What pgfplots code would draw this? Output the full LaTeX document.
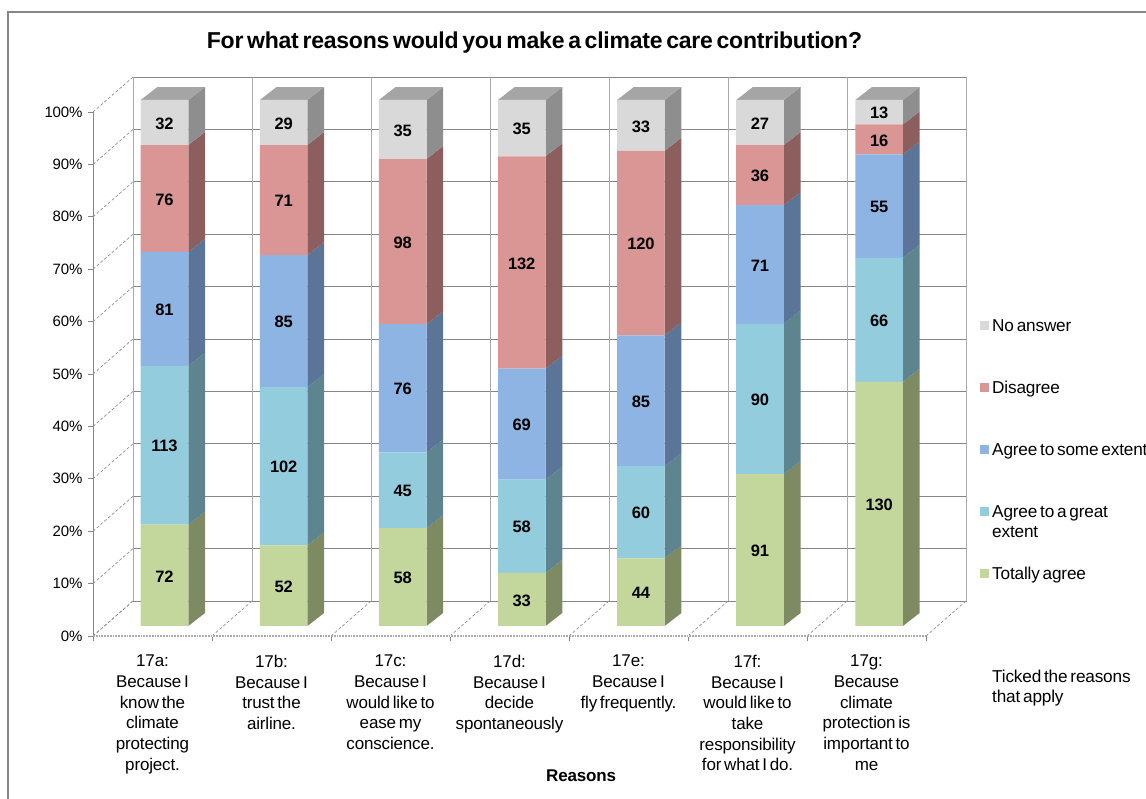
\documentclass[border=0pt]{standalone}
\usepackage{fontspec}
\setmainfont[WordSpace=0.6,LetterSpace=-1.0]{Liberation Sans}
\usepackage{pgfplots}
\usepackage{pgfplotstable}
\pgfplotsset{compat=1.18}

% front colours and darker side colours
\definecolor{cGreen}{HTML}{C3D69B}\definecolor{sGreen}{HTML}{7D8A62}
\definecolor{cTeal}{HTML}{93CDDD}\definecolor{sTeal}{HTML}{5E8490}
\definecolor{cBlue}{HTML}{8EB4E3}\definecolor{sBlue}{HTML}{5A7597}
\definecolor{cRed}{HTML}{D99694}\definecolor{sRed}{HTML}{8C5F5E}
\definecolor{cGrey}{HTML}{D9D9D9}\definecolor{sGrey}{HTML}{8E8E8E}
\definecolor{tGrey}{HTML}{A5A5A5}
\definecolor{axisgrey}{HTML}{868686}

% share of each answer per question, in percent
\pgfplotstableread{
x     totally great some  disagree noanswer
164.5 19.25   30.21 21.66 20.32    8.56
283.6 15.34   30.09 25.07 20.94    8.56
402.7 18.59   14.42 24.36 31.41    11.22
521.8 10.09   17.74 21.10 40.37    10.70
640.9 12.87   17.54 24.85 35.09    9.65
760.0 28.89   28.57 22.54 11.43    8.57
879.1 46.43   23.57 19.64 5.71     4.65
}\pcts

% side face of one segment: centre x, lower and upper percent, colour
\newcommand{\side}[4]{%
  \pgfmathsetmacro{\xa}{#1+23.8}\pgfmathsetmacro{\xb}{#1+40.5}%
  \pgfmathsetmacro{\yal}{#2+2.47}\pgfmathsetmacro{\yau}{#3+2.47}%
  \addplot[fill=#4,draw=none,mark=none,forget plot] coordinates {(\xa,#2)(\xb,\yal)(\xb,\yau)(\xa,#3)} -- cycle;
}
% all side faces and the top of one bar, from the cumulated percents
\newcommand{\barsides}[5]{%
  \side{#1}{0}{#2}{sGreen}\side{#1}{#2}{#3}{sTeal}\side{#1}{#3}{#4}{sBlue}%
  \side{#1}{#4}{#5}{sRed}\side{#1}{#5}{100}{sGrey}%
  \pgfmathsetmacro{\xl}{#1-23.8}\pgfmathsetmacro{\xm}{#1-7.1}%
  \pgfmathsetmacro{\xa}{#1+23.8}\pgfmathsetmacro{\xb}{#1+40.5}%
  \addplot[fill=tGrey,draw=none,mark=none,forget plot] coordinates {(\xl,100)(\xm,102.47)(\xb,102.47)(\xa,100)} -- cycle;
}
\newcommand{\lentry}[1]{\raisebox{0pt}[12pt][4pt]{\parbox[t]{180pt}{\raggedright\baselineskip=19.5pt #1}}}

\begin{document}
\begin{tikzpicture}[x=1pt,y=1pt]
\useasboundingbox (0,0) rectangle (1146,798);
\clip (0,0) rectangle (1146,798);
\draw[axisgrey,line width=1.4pt] (8,-2) -- (8,786) -- (1148,786);

% frame: walls, floor, ticks, texts
\begin{axis}[
  at={(93pt,162pt)},anchor=south west,
  scale only axis,width=833pt,height=524pt,
  xmin=93,xmax=926,ymin=0,ymax=100,clip=false,
  axis x line*=bottom,axis y line*=left,
  axis line style={axisgrey,line width=0.9pt,-},
  tick style={axisgrey,line width=0.9pt},
  tick align=outside,major tick length=5pt,
  ytick={0,10,...,100},
  yticklabels={0\%,10\%,20\%,30\%,40\%,50\%,60\%,70\%,80\%,90\%,100\%},
  yticklabel style={font=\fontsize{15}{18}\selectfont,xshift=-2pt},
  xtick={93,212,331,450,569,688,807,926},
  x tick label as interval,
  xticklabels={
    {17a:\\Because I\\know the\\climate\\protecting\\project.},
    {17b:\\Because I\\trust the\\airline.},
    {17c:\\Because I\\would like to\\ease my\\conscience.},
    {17d:\\Because I\\decide\\spontaneously},
    {17e:\\Because I\\fly frequently.},
    {17f:\\Because I\\would like to\\take\\responsibility\\for what I do.},
    {17g:\\Because\\climate\\protection is\\important to\\me}},
  xticklabel style={align=flush center,text width=112pt,anchor=north,yshift=-10.5pt,
    font=\fontsize{17}{20.7}\selectfont},
  title={For what reasons would you make a climate care contribution?},
  title style={at={(0.53,1.122)},anchor=center,font=\fontsize{23}{26}\selectfont\bfseries},
  xlabel={Reasons},
  xlabel style={at={(0.586,-0.267)},anchor=center,font=\fontsize{17}{20}\selectfont\bfseries},
]
\pgfplotsinvokeforeach{0,10,...,100}{
  \draw[axisgrey!90,densely dashed,line width=0.7pt] (axis cs:93,#1) -- (axis cs:133,#1+6.68);
  \draw[axisgrey,line width=0.9pt] (axis cs:133,#1+6.68) -- (axis cs:966.7,#1+6.68);
}
\pgfplotsinvokeforeach{0,1,...,7}{
  \draw[axisgrey!70,line width=1pt] (axis cs:133+119*#1,6.68) -- (axis cs:133+119*#1,106.68);
  \draw[axisgrey!90,densely dashed,line width=0.7pt] (axis cs:93+119*#1,0) -- (axis cs:133+119*#1,6.68);
}
\draw[white,line width=1.2pt] (axis cs:93,0) -- (axis cs:926,0);
\draw[axisgrey!70,densely dotted,line width=1.8pt] (axis cs:93,0) -- (axis cs:926,0);
\node[anchor=north west,align=left,font=\fontsize{17.2}{20.7}\selectfont,inner sep=0pt]
  at (axis cs:992,-6.4) {Ticked the reasons\\that apply};
\end{axis}

% side and top faces
\begin{axis}[
  at={(93pt,172pt)},anchor=south west,
  scale only axis,width=833pt,height=526pt,
  xmin=93,xmax=926,ymin=0,ymax=100,clip=false,hide axis,
]
\barsides{164.5}{19.25}{49.47}{71.12}{91.44}
\barsides{283.6}{15.34}{45.43}{70.50}{91.44}
\barsides{402.7}{18.59}{33.01}{57.37}{88.78}
\barsides{521.8}{10.09}{27.83}{48.93}{89.30}
\barsides{640.9}{12.87}{30.41}{55.26}{90.35}
\barsides{760.0}{28.89}{57.46}{80.00}{91.43}
\barsides{879.1}{46.43}{70.00}{89.64}{95.35}
\end{axis}

% front faces and legend
\begin{axis}[
  at={(93pt,172pt)},anchor=south west,
  scale only axis,width=833pt,height=526pt,
  xmin=93,xmax=926,ymin=0,ymax=100,clip=false,hide axis,
  ybar stacked,bar width=47.6pt,
  reverse legend,
  legend image code/.code={\fill[#1,draw=none] (0pt,-4pt) rectangle (9pt,5pt);},
  legend style={draw=none,fill=none,at={(axis cs:980,58.55)},anchor=north west,
    font=\fontsize{17.2}{19.5}\selectfont,row sep=45.5pt,inner sep=0pt,
    nodes={inner sep=1.5pt},cells={anchor=west},column sep=1.5pt},
]
\addplot[fill=cGreen,draw=none] table[x=x,y=totally] {\pcts};
\addplot[fill=cTeal,draw=none] table[x=x,y=great] {\pcts};
\addplot[fill=cBlue,draw=none] table[x=x,y=some] {\pcts};
\addplot[fill=cRed,draw=none] table[x=x,y=disagree] {\pcts};
\addplot[fill=cGrey,draw=none] table[x=x,y=noanswer] {\pcts};
\legend{\lentry{Totally agree},\lentry{Agree to a great\\extent},\lentry{Agree to some extent},\lentry{Disagree},\lentry{No answer}}
\end{axis}

% counts, at the middle of each segment
\begin{axis}[
  at={(93pt,172pt)},anchor=south west,
  scale only axis,width=833pt,height=526pt,
  xmin=93,xmax=926,ymin=0,ymax=100,clip=false,hide axis,
]
\addplot[draw=none,mark=none,nodes near coords,point meta=explicit symbolic,
  nodes near coords style={anchor=center,yshift=-1pt,font=\fontsize{16.5}{18}\selectfont\bfseries}]
  coordinates {
  (164.5,9.6)[72] (164.5,34.4)[113] (164.5,60.3)[81] (164.5,81.3)[76] (164.5,95.7)[32]
  (283.6,7.67)[52] (283.6,30.39)[102] (283.6,57.97)[85] (283.6,80.97)[71] (283.6,95.72)[29]
  (402.7,9.3)[58] (402.7,25.8)[45] (402.7,45.19)[76] (402.7,73.08)[98] (402.7,94.39)[35]
  (521.8,5.05)[33] (521.8,18.96)[58] (521.8,38.38)[69] (521.8,69.12)[132] (521.8,94.65)[35]
  (640.9,6.44)[44] (640.9,21.64)[60] (640.9,42.84)[85] (640.9,72.81)[120] (640.9,95.18)[33]
  (760,14.45)[91] (760,43.18)[90] (760,68.73)[71] (760,85.72)[36] (760,95.72)[27]
  (879.1,23.22)[130] (879.1,58.22)[66] (879.1,79.82)[55] (879.1,92.5)[16] (879.1,97.68)[13]
  };
\end{axis}
\end{tikzpicture}
\end{document}
